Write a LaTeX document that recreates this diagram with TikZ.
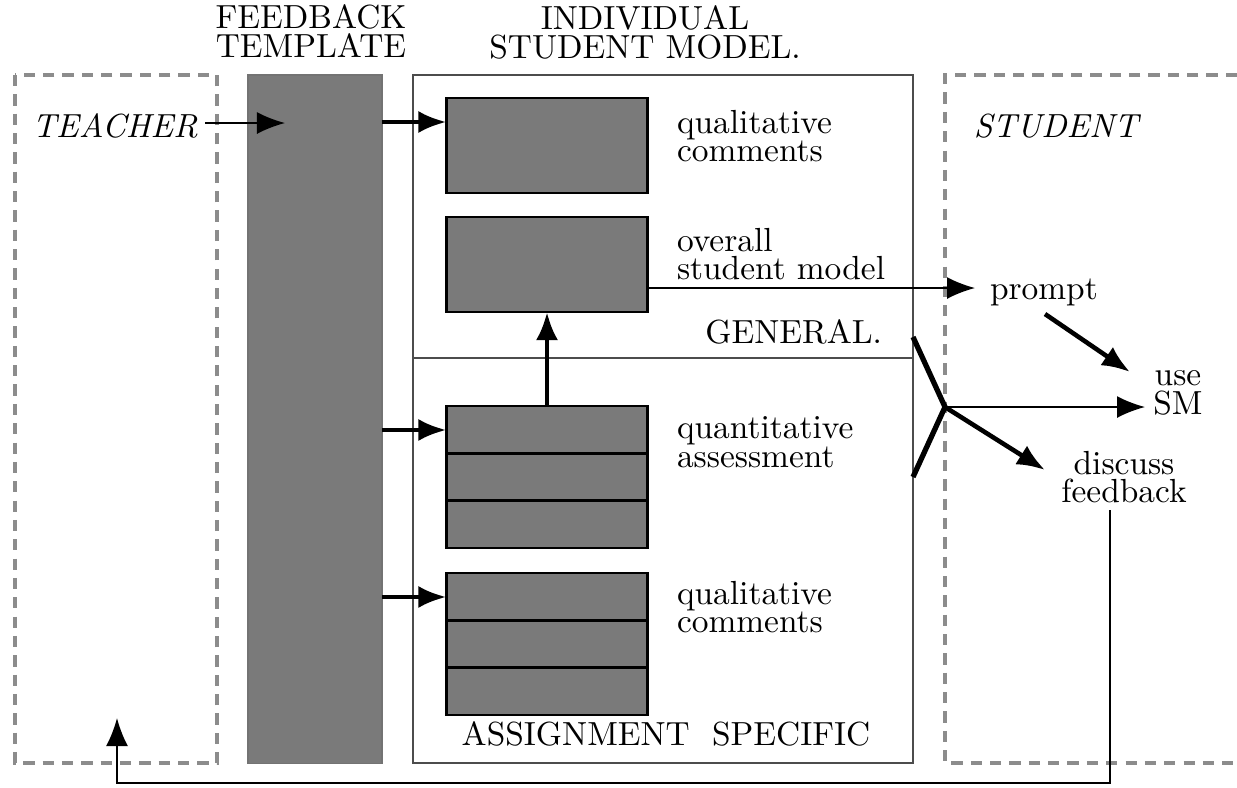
\documentclass[tikz,border=0pt]{standalone}
\usetikzlibrary{arrows.meta,calc,positioning}

\definecolor{boxgray}{gray}{0.48}

\begin{document}
\begin{tikzpicture}[x=0.01cm,y=-0.01cm,
        every node/.style={font=\fontsize{9.5}{8.2}\selectfont,inner sep=0pt,outer sep=0pt},
        txt/.style={align=left,anchor=west},
        dashbox/.style={draw=black!45,line width=0.9pt,dash pattern=on 3.2pt off 2.3pt},
        part/.style={rectangle,draw=black,line width=0.8pt,fill=boxgray,minimum width=2.01cm},
        thinarrow/.style={line width=0.5pt,-{Latex[length=2.8mm,width=2.2mm]}},
        thickarrow/.style={line width=1.3pt,-{Latex[length=2.8mm,width=2.2mm]}}
    ]
    \useasboundingbox (0,0) rectangle (1237,787);

    % the three columns
    \draw[dashbox] (15,75) rectangle (217,763);
    \draw[dashbox] (1237,75) -- (945,75) -- (945,763) -- (1237,763);
    \node[rectangle,fill=boxgray,draw=black!55,line width=0.4pt,minimum width=1.34cm,minimum height=6.88cm] (tmpl) at (315,419) {};
    \node[rectangle,draw=black!70,line width=0.6pt,minimum width=5cm,minimum height=6.88cm] (ism) at (663,419) {};
    \draw[black!70,line width=0.6pt] (ism.west |- 0,358) -- (ism.east |- 0,358);

    \node[align=center] (tmpltitle) at (311,31) {FEEDBACK\\TEMPLATE};
    \node[align=center] (ismtitle) at (645,32) {INDIVIDUAL\\STUDENT MODEL.};
    \node[font=\fontsize{9.5}{8.2}\selectfont\itshape] (teacher) at (115,126) {TEACHER};
    \node[font=\fontsize{9.5}{8.2}\selectfont\itshape] (student) at (1056,126) {STUDENT};

    % student model parts
    \node[part,minimum height=0.95cm] (qualg) at (547,145.5) {};
    \node[part,minimum height=0.95cm] (overall) at (547,264.5) {};
    \node[part,minimum height=1.42cm] (quant) at (547,477) {};
    \node[part,minimum height=1.42cm] (qualas) at (547,644) {};
    \foreach \b in {quant,qualas} {
        \draw[line width=0.8pt] ($(\b.north west)!1/3!(\b.south west)$) -- ($(\b.north east)!1/3!(\b.south east)$);
        \draw[line width=0.8pt] ($(\b.north west)!2/3!(\b.south west)$) -- ($(\b.north east)!2/3!(\b.south east)$);
    }

    \node[txt] (lqualg) at (677,136) {qualitative\\comments};
    \node[txt] (loverall) at (677,254) {overall\\student model};
    \node[anchor=east] (general) at (882,332) {GENERAL.};
    \node[txt] (lquant) at (677,442) {quantitative\\assessment};
    \node[txt] (lqualas) at (677,607) {qualitative\\comments};
    \node (specific) at (666,734) {ASSIGNMENT\ \ SPECIFIC};

    % student side
    \node[txt] (prompt) at (990,292) {prompt};
    \node[align=center] (usesm) at (1178,393) {use\\SM};
    \node[align=center] (discuss) at (1124,477) {discuss\\feedback};
    \coordinate (apex) at (945,407);
    \draw[line width=1.5pt] (913,337) -- (apex) -- (913,477);

    % arrows
    \coordinate (tin) at (285,123);
    \draw[thinarrow] (205,123) -- (tin);
    \coordinate (in1) at ([yshift=-0.24cm]qualg.north west);
    \coordinate (in2) at ([yshift=-0.24cm]quant.north west);
    \coordinate (in3) at ([yshift=-0.24cm]qualas.north west);
    \foreach \c in {in1,in2,in3}
        \draw[thickarrow] (tmpl.east |- \c) -- (\c);
    \draw[thickarrow] (quant.north) -- (overall.south);
    \coordinate (out) at ([yshift=-0.235cm]overall.east);
    \draw[thinarrow] (out) -- (975,288);
    \draw[thickarrow] (1045,314) -- (1130,372);
    \draw[thinarrow] (apex) -- (1145,407);
    \draw[thickarrow] (apex) -- (1045,470);
    \draw[thinarrow] (1110,510) -- (1110,783) -- (117,783) -- (117,718);
\end{tikzpicture}
\end{document}
